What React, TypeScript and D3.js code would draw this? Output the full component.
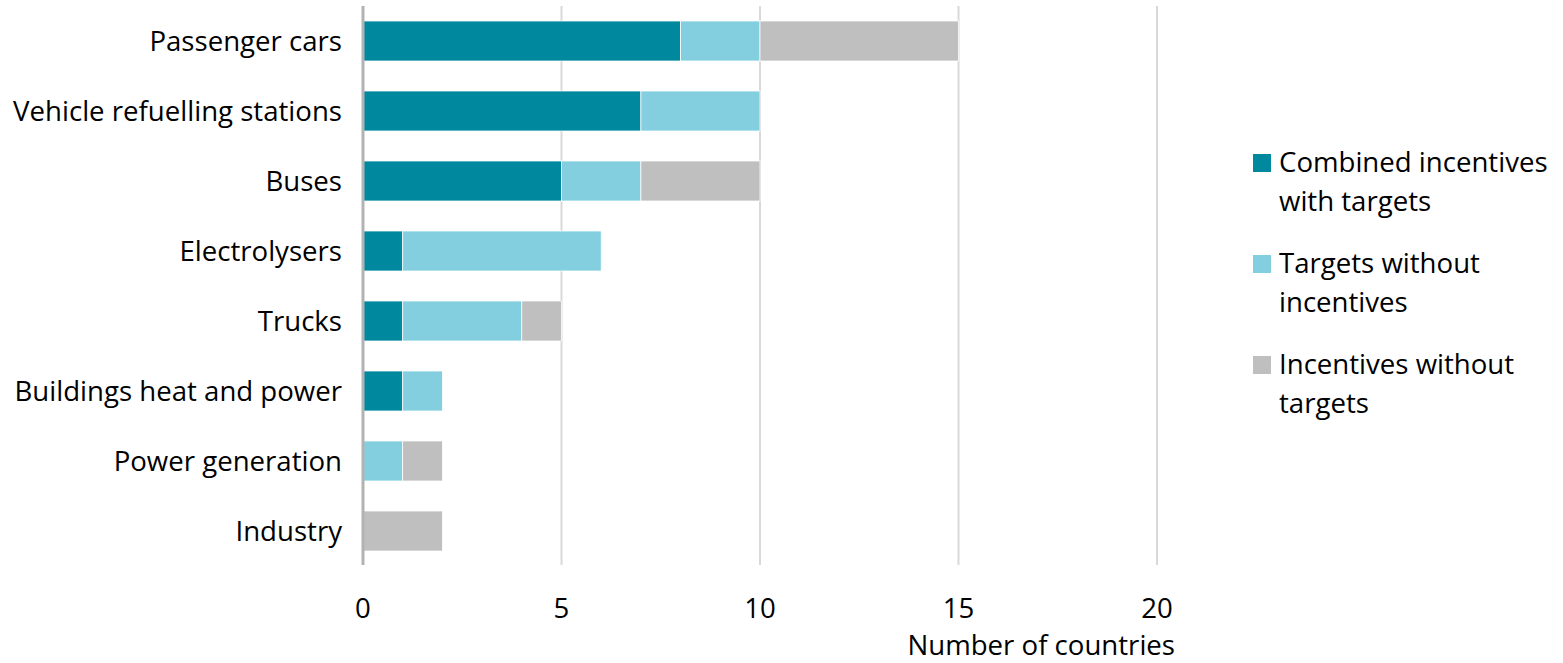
import React from "react";
import * as d3 from "d3";

const categories = [
  "Passenger cars",
  "Vehicle refuelling stations",
  "Buses",
  "Electrolysers",
  "Trucks",
  "Buildings heat and power",
  "Power generation",
  "Industry",
];
const seriesNames = [
  "Combined incentives with targets",
  "Targets without incentives",
  "Incentives without targets",
];
const combinedWithTargets = [8, 7, 5, 1, 1, 1, 0, 0];
const targetsWithoutIncentives = [2, 3, 2, 5, 3, 1, 1, 0];
const incentivesWithoutTargets = [5, 0, 3, 0, 1, 0, 1, 2];
const xTicks = [0, 5, 10, 15, 20];
const legendLines = [
  ["Combined incentives", "with targets"],
  ["Targets without", "incentives"],
  ["Incentives without", "targets"],
];
const colors = ["#00889e", "#83cfe0", "#bfbfbf"];

const W = 1563;
const H = 663;
const FONT = "'Open Sans', 'Noto Sans', sans-serif";
const FS = 27.6;

export default function App() {
  const x = d3.scaleLinear().domain([0, 20]).range([363, 1157]);
  const y = d3
    .scaleBand<string>()
    .domain(categories)
    .range([6, 566])
    .paddingInner(30 / 70)
    .paddingOuter(15 / 70);

  const rows = categories.map((c, i) => ({
    cat: c,
    a: combinedWithTargets[i],
    b: targetsWithoutIncentives[i],
    c2: incentivesWithoutTargets[i],
  }));
  const stack = d3.stack<any>().keys(["a", "b", "c2"])(rows);

  return (
    <div style={{ position: "absolute", left: 0, top: 0 }}>
      <svg width={W} height={H} style={{ display: "block", fontFamily: FONT }}>
        <rect width={W} height={H} fill="#fff" />
        {xTicks.slice(1).map((t) => (
          <line key={t} x1={x(t)} x2={x(t)} y1={6} y2={565} stroke="#d9d9d9" strokeWidth={2} />
        ))}
        {stack.map((s, si) => (
          <g key={si} fill={colors[si]}>
            {s.map((d, i) =>
              d[1] - d[0] > 0 ? (
                <rect
                  key={i}
                  x={x(d[0])}
                  y={y(categories[i])!}
                  width={x(d[1]) - x(d[0])}
                  height={y.bandwidth()}
                  stroke="#fff"
                  strokeWidth={0.75}
                />
              ) : null
            )}
          </g>
        ))}
        <line x1={x(0)} x2={x(0)} y1={6} y2={565} stroke="#b3b3b3" strokeWidth={3} />
        {categories.map((c) => (
          <text
            key={c}
            x={342}
            y={y(c)! + y.bandwidth() / 2}
            dy="0.35em"
            textAnchor="end"
            fontSize={FS}
            fill="#000"
          >
            {c}
          </text>
        ))}
        {xTicks.map((t) => (
          <text key={t} x={x(t)} y={618} textAnchor="middle" fontSize={FS} fill="#000">
            {t}
          </text>
        ))}
        <text x={1175} y={655} textAnchor="end" fontSize={FS} fill="#000">
          Number of countries
        </text>
        {seriesNames.map((n, i) => (
          <g key={n} transform={`translate(1253, ${154 + i * 101})`}>
            <rect width={18} height={18} fill={colors[i]} />
            <text x={26} y={18} fontSize={FS} fill="#000">
              {legendLines[i][0]}
            </text>
            <text x={26} y={57} fontSize={FS} fill="#000">
              {legendLines[i][1]}
            </text>
          </g>
        ))}
      </svg>
    </div>
  );
}
